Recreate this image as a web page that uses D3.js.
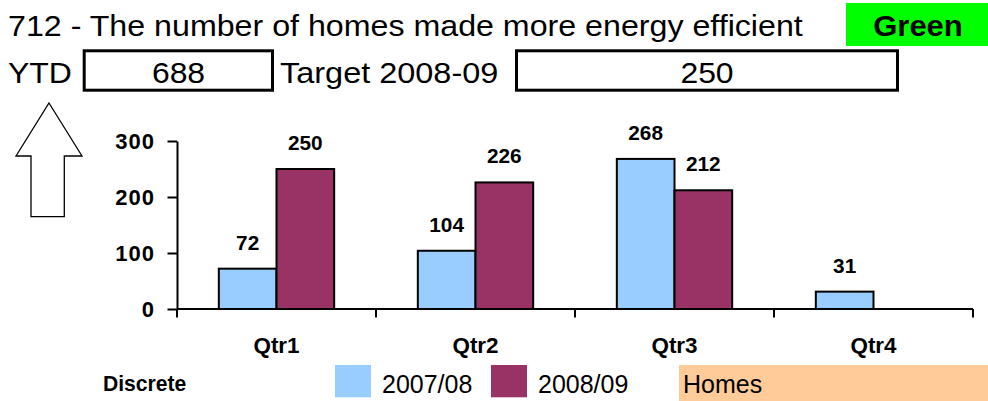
<!DOCTYPE html>
<html>
<head>
<meta charset="utf-8">
<script src="https://cdn.jsdelivr.net/npm/d3@7/dist/d3.min.js"></script>
<style>
  html, body { margin: 0; padding: 0; background: #ffffff; }
  svg { display: block; font-family: "Liberation Sans", Arial, sans-serif; }
</style>
</head>
<body>
<svg id="chart" width="988" height="401"></svg>
<script>
// ---- data ----
const titleText = "712 - The number of homes made more energy efficient";
const statusText = "Green";
const ytdValue = 688;
const targetLabel = "Target 2008-09";
const targetValue = 250;
const categories = ["Qtr1", "Qtr2", "Qtr3", "Qtr4"];
const seriesNames = ["2007/08", "2008/09"];
const values2007 = [72, 104, 268, 31];
const values2008 = [250, 226, 212, null];
const yTickValues = [0, 100, 200, 300];
const measureType = "Discrete";
const unitLabel = "Homes";

const seriesColors = { "2007/08": "#99CCFF", "2008/09": "#993366" };
const seriesValues = { "2007/08": values2007, "2008/09": values2008 };

const svg = d3.select("#chart");

// text placed at (x, y) and widened horizontally by sx around its anchor
function addText(parent, str, x, y, opts) {
  const o = Object.assign({ size: 20, weight: "normal", anchor: "start", sx: 1, fill: "#000" }, opts || {});
  return parent.append("text")
    .attr("transform", `translate(${x},${y}) scale(${o.sx},1)`)
    .attr("text-anchor", o.anchor)
    .attr("font-size", o.size)
    .attr("font-weight", o.weight)
    .attr("fill", o.fill)
    .text(str);
}

// ---- header ----
addText(svg, titleText, 8, 36, { size: 29, sx: 1.11 });

svg.append("rect").attr("x", 846).attr("y", 3).attr("width", 142).attr("height", 43)
  .attr("fill", "#00FF00");
addText(svg, statusText, 918, 36, { size: 29, weight: "bold", anchor: "middle", sx: 1.07 });

addText(svg, "YTD", 8, 83, { size: 29, sx: 1.1 });
svg.append("rect").attr("x", 84.2).attr("y", 50.8).attr("width", 188.3).attr("height", 39.4)
  .attr("fill", "#fff").attr("stroke", "#000").attr("stroke-width", 3);
addText(svg, String(ytdValue), 178.5, 83, { size: 29, anchor: "middle", sx: 1.1 });

addText(svg, targetLabel, 280, 83, { size: 29, sx: 1.12 });
svg.append("rect").attr("x", 516.5).attr("y", 50.8).attr("width", 381).attr("height", 39.4)
  .attr("fill", "#fff").attr("stroke", "#000").attr("stroke-width", 3);
addText(svg, String(targetValue), 707, 83, { size: 29, anchor: "middle", sx: 1.1 });

// direction-of-improvement arrow (up = higher is better)
svg.append("path")
  .attr("d", "M49,103 L82,156 L64.3,156 L64.3,216.7 L31,216.7 L31,156 L16,156 Z")
  .attr("fill", "#fff").attr("stroke", "#000").attr("stroke-width", 1.3);

// ---- chart ----
const x = d3.scaleBand().domain(categories).range([177, 973]).paddingInner(0).paddingOuter(0);
const xs = d3.scaleBand().domain(seriesNames).range([0, x.bandwidth()]).paddingInner(0).paddingOuter(0.725);
const y = d3.scaleLinear().domain([0, 300]).range([309, 141]);

const yAxis = d3.axisLeft(y).tickValues(yTickValues).tickSize(9.5).tickSizeOuter(0).tickPadding(12.5);
const gy = svg.append("g").attr("transform", "translate(177,0)").call(yAxis);
gy.select(".domain").attr("stroke", "#000").attr("stroke-width", 2);
gy.selectAll(".tick line").attr("stroke", "#000").attr("stroke-width", 2);
gy.selectAll(".tick text")
  .attr("font-size", 22).attr("font-weight", "bold").attr("fill", "#000")
  .attr("font-family", "Liberation Sans, Arial, sans-serif")
  .attr("letter-spacing", 1);

// bars
const barData = [];
categories.forEach((c, i) => {
  seriesNames.forEach(s => {
    const v = seriesValues[s][i];
    if (v != null) barData.push({ c, s, v });
  });
});

svg.append("g").selectAll("rect").data(barData).join("rect")
  .attr("x", d => x(d.c) + xs(d.s))
  .attr("y", d => y(d.v))
  .attr("width", xs.bandwidth())
  .attr("height", d => y(0) - y(d.v))
  .attr("fill", d => seriesColors[d.s])
  .attr("stroke", "#000")
  .attr("stroke-width", 2);

// value labels
const lab = svg.append("g");
barData.forEach(d => {
  addText(lab, String(d.v), x(d.c) + xs(d.s) + xs.bandwidth() / 2, y(d.v) - 19,
    { size: 20, weight: "bold", anchor: "middle", sx: 1.04 });
});

// category axis with boundary ticks
const xRange = x.range();
svg.append("line").attr("x1", xRange[0]).attr("x2", xRange[1]).attr("y1", y(0)).attr("y2", y(0))
  .attr("stroke", "#000").attr("stroke-width", 2);
const bounds = categories.map(c => x(c)).concat([xRange[1]]);
svg.append("g").selectAll("line").data(bounds).join("line")
  .attr("x1", d => d).attr("x2", d => d)
  .attr("y1", y(0)).attr("y2", y(0) + 8.5)
  .attr("stroke", "#000").attr("stroke-width", 2);
categories.forEach(c => {
  addText(svg, c, x(c) + x.bandwidth() / 2, 353, { size: 22, weight: "bold", anchor: "middle", sx: 1.02 });
});

// ---- footer legend ----
addText(svg, measureType, 103, 390.7, { size: 22, weight: "bold", sx: 0.96 });

const legendX = { "2007/08": 335, "2008/09": 491 };
seriesNames.forEach(s => {
  svg.append("rect").attr("x", legendX[s]).attr("y", 365).attr("width", 36).attr("height", 32.3)
    .attr("fill", seriesColors[s]);
  addText(svg, s, legendX[s] + 47, 393.3, { size: 25 });
});

svg.append("rect").attr("x", 679).attr("y", 365).attr("width", 309).attr("height", 36)
  .attr("fill", "#FFCC99");
addText(svg, unitLabel, 683, 393.3, { size: 25 });
</script>
</body>
</html>
